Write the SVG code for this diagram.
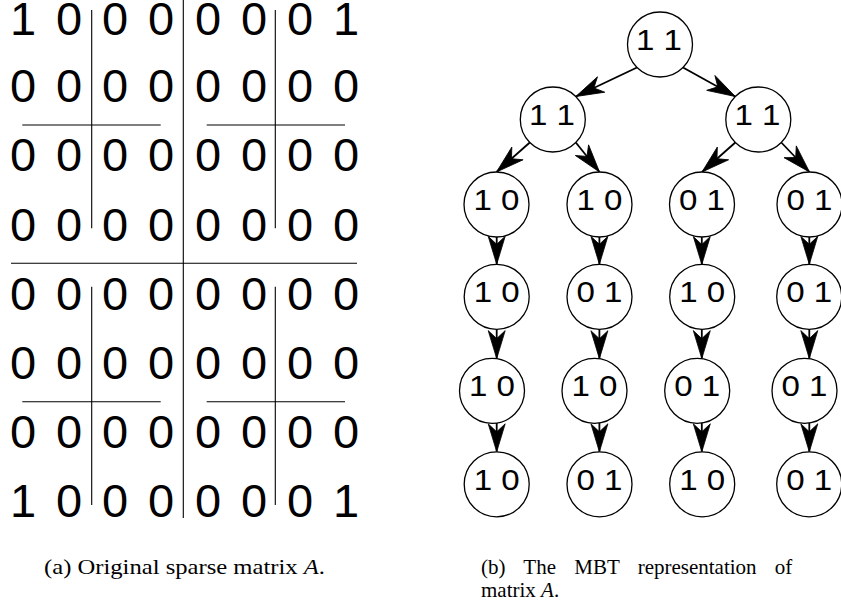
<svg xmlns="http://www.w3.org/2000/svg" width="841" height="611" viewBox="0 0 841 611">
  <defs>
    <style>
      .m { font-family: "Liberation Sans", Arial, sans-serif; font-size: 47px; fill: #000; text-anchor: middle; }
      .grid { stroke: #000; stroke-width: 1.1; fill: none; }
      .node circle { fill: #fff; stroke: #000; stroke-width: 1.3; }
      .node text { font-family: "Liberation Sans", Arial, sans-serif; font-size: 30px; fill: #000; text-anchor: middle; }
      .edge { stroke: #000; stroke-width: 1.8; fill: none; marker-end: url(#head); }
      .cap { font-family: "Liberation Serif", "Times New Roman", serif; font-size: 21px; fill: #000; }
    </style>
    <marker id="head" markerUnits="userSpaceOnUse" viewBox="-29 -10 31 20" refX="0" refY="0" markerWidth="31" markerHeight="20" orient="auto" overflow="visible">
      <path d="M0,0 L-28,-8.5 L-20,0 L-28,8.5 Z" fill="#000" stroke="#000" stroke-width="0.8" stroke-linejoin="miter"/>
    </marker>
  </defs>

  <!-- (a) block-partitioned 8x8 matrix -->
  <g id="matrix">
    <g id="matrix-lines">
      <line class="grid" x1="183.3" y1="0" x2="183.3" y2="518"/>
      <line class="grid" x1="11" y1="263.3" x2="357" y2="263.3"/>
      <line class="grid" x1="91.7" y1="10" x2="91.7" y2="228.3"/>
      <line class="grid" x1="275.3" y1="10" x2="275.3" y2="228.3"/>
      <line class="grid" x1="22.3" y1="125" x2="160.7" y2="125"/>
      <line class="grid" x1="206.7" y1="125" x2="345" y2="125"/>
      <line class="grid" x1="91.7" y1="286.7" x2="91.7" y2="505"/>
      <line class="grid" x1="275.3" y1="286.7" x2="275.3" y2="505"/>
      <line class="grid" x1="22.3" y1="401.7" x2="160.7" y2="401.7"/>
      <line class="grid" x1="206.7" y1="401.7" x2="345" y2="401.7"/>
    </g>
    <g id="matrix-cells">
      <text class="m" y="34.5"><tspan x="23">1</tspan><tspan x="69">0</tspan><tspan x="115">0</tspan><tspan x="161">0</tspan><tspan x="208">0</tspan><tspan x="254">0</tspan><tspan x="300">0</tspan><tspan x="346">1</tspan></text>
      <text class="m" y="102.2"><tspan x="23">0</tspan><tspan x="69">0</tspan><tspan x="115">0</tspan><tspan x="161">0</tspan><tspan x="208">0</tspan><tspan x="254">0</tspan><tspan x="300">0</tspan><tspan x="346">0</tspan></text>
      <text class="m" y="171.4"><tspan x="23">0</tspan><tspan x="69">0</tspan><tspan x="115">0</tspan><tspan x="161">0</tspan><tspan x="208">0</tspan><tspan x="254">0</tspan><tspan x="300">0</tspan><tspan x="346">0</tspan></text>
      <text class="m" y="240.6"><tspan x="23">0</tspan><tspan x="69">0</tspan><tspan x="115">0</tspan><tspan x="161">0</tspan><tspan x="208">0</tspan><tspan x="254">0</tspan><tspan x="300">0</tspan><tspan x="346">0</tspan></text>
      <text class="m" y="309.8"><tspan x="23">0</tspan><tspan x="69">0</tspan><tspan x="115">0</tspan><tspan x="161">0</tspan><tspan x="208">0</tspan><tspan x="254">0</tspan><tspan x="300">0</tspan><tspan x="346">0</tspan></text>
      <text class="m" y="379"><tspan x="23">0</tspan><tspan x="69">0</tspan><tspan x="115">0</tspan><tspan x="161">0</tspan><tspan x="208">0</tspan><tspan x="254">0</tspan><tspan x="300">0</tspan><tspan x="346">0</tspan></text>
      <text class="m" y="448.2"><tspan x="23">0</tspan><tspan x="69">0</tspan><tspan x="115">0</tspan><tspan x="161">0</tspan><tspan x="208">0</tspan><tspan x="254">0</tspan><tspan x="300">0</tspan><tspan x="346">0</tspan></text>
      <text class="m" y="517.4"><tspan x="23">1</tspan><tspan x="69">0</tspan><tspan x="115">0</tspan><tspan x="161">0</tspan><tspan x="208">0</tspan><tspan x="254">0</tspan><tspan x="300">0</tspan><tspan x="346">1</tspan></text>
    </g>
  </g>

  <!-- (b) tree connectors -->
  <g id="connectors">
    <path class="edge" d="M637,67.5 L575.8,96.5"/>
    <path class="edge" d="M683,67.5 L735.3,96.5"/>
    <path class="edge" d="M529.8,142.5 L496.5,172"/>
    <path class="edge" d="M575.8,142.5 L599.5,172"/>
    <path class="edge" d="M735.3,142.5 L702,172"/>
    <path class="edge" d="M781.3,142.5 L809.5,172"/>

    <path class="edge" d="M496.7,237 L496.7,264.3"/>
    <path class="edge" d="M599.4,237 L599.4,264.3"/>
    <path class="edge" d="M701.8,237 L701.8,264.5"/>
    <path class="edge" d="M809.3,237 L809.3,264.3"/>

    <path class="edge" d="M496.7,329.3 L496.7,358.6"/>
    <path class="edge" d="M599.4,329.3 L599.4,358.7"/>
    <path class="edge" d="M701.8,329.3 L701.8,358.6"/>
    <path class="edge" d="M809.3,329.3 L809.3,358.6"/>

    <path class="edge" d="M496.7,423 L496.7,451.8"/>
    <path class="edge" d="M599.4,423 L599.4,451.8"/>
    <path class="edge" d="M701.8,423 L701.8,451.8"/>
    <path class="edge" d="M809.3,423 L809.3,451.8"/>
  </g>

  <!-- (b) tree nodes -->
  <g id="n-root" class="node"><circle cx="660" cy="44.5" r="32.5"/><text x="659" y="50" textLength="46" lengthAdjust="spacingAndGlyphs">1 1</text></g>

  <g id="n-l" class="node"><circle cx="552.8" cy="119.5" r="32.5"/><text x="552" y="125" textLength="46" lengthAdjust="spacingAndGlyphs">1 1</text></g>
  <g id="n-r" class="node"><circle cx="758.3" cy="119.5" r="32.5"/><text x="757.5" y="125" textLength="46" lengthAdjust="spacingAndGlyphs">1 1</text></g>

  <g id="n-3-1" class="node"><circle cx="496.5" cy="204.5" r="32.5"/><text x="496.5" y="210" textLength="46" lengthAdjust="spacingAndGlyphs">1 0</text></g>
  <g id="n-3-2" class="node"><circle cx="599.5" cy="204.5" r="32.5"/><text x="599.5" y="210" textLength="46" lengthAdjust="spacingAndGlyphs">1 0</text></g>
  <g id="n-3-3" class="node"><circle cx="702" cy="204.5" r="32.5"/><text x="702" y="210" textLength="46" lengthAdjust="spacingAndGlyphs">0 1</text></g>
  <g id="n-3-4" class="node"><circle cx="809.5" cy="204.5" r="32.5"/><text x="809.5" y="210" textLength="46" lengthAdjust="spacingAndGlyphs">0 1</text></g>

  <g id="n-4-1" class="node"><circle cx="496.7" cy="296.8" r="32.5"/><text x="496.7" y="302.3" textLength="46" lengthAdjust="spacingAndGlyphs">1 0</text></g>
  <g id="n-4-2" class="node"><circle cx="599.5" cy="296.8" r="32.5"/><text x="599.5" y="302.3" textLength="46" lengthAdjust="spacingAndGlyphs">0 1</text></g>
  <g id="n-4-3" class="node"><circle cx="702.2" cy="296.8" r="32.5"/><text x="702.2" y="302.3" textLength="46" lengthAdjust="spacingAndGlyphs">1 0</text></g>
  <g id="n-4-4" class="node"><circle cx="809.2" cy="296.8" r="32.5"/><text x="809.2" y="302.3" textLength="46" lengthAdjust="spacingAndGlyphs">0 1</text></g>

  <g id="n-5-1" class="node"><circle cx="492" cy="390.8" r="32.5"/><text x="492" y="396.3" textLength="46" lengthAdjust="spacingAndGlyphs">1 0</text></g>
  <g id="n-5-2" class="node"><circle cx="594.5" cy="390.8" r="32.5"/><text x="594.5" y="396.3" textLength="46" lengthAdjust="spacingAndGlyphs">1 0</text></g>
  <g id="n-5-3" class="node"><circle cx="697.2" cy="390.8" r="32.5"/><text x="697.2" y="396.3" textLength="46" lengthAdjust="spacingAndGlyphs">0 1</text></g>
  <g id="n-5-4" class="node"><circle cx="804.5" cy="390.8" r="32.5"/><text x="804.5" y="396.3" textLength="46" lengthAdjust="spacingAndGlyphs">0 1</text></g>

  <g id="n-6-1" class="node"><circle cx="496.7" cy="484.3" r="32.5"/><text x="496.7" y="489.8" textLength="46" lengthAdjust="spacingAndGlyphs">1 0</text></g>
  <g id="n-6-2" class="node"><circle cx="599.5" cy="484.3" r="32.5"/><text x="599.5" y="489.8" textLength="46" lengthAdjust="spacingAndGlyphs">0 1</text></g>
  <g id="n-6-3" class="node"><circle cx="702.2" cy="484.3" r="32.5"/><text x="702.2" y="489.8" textLength="46" lengthAdjust="spacingAndGlyphs">1 0</text></g>
  <g id="n-6-4" class="node"><circle cx="809.2" cy="484.3" r="32.5"/><text x="809.2" y="489.8" textLength="46" lengthAdjust="spacingAndGlyphs">0 1</text></g>

  <!-- captions -->
  <g id="captions">
    <text class="cap" x="44" y="574" textLength="281" lengthAdjust="spacingAndGlyphs">(a) Original sparse matrix <tspan font-style="italic">A</tspan>.</text>
    <text class="cap" x="481" y="574" word-spacing="13">(b) The MBT representation of</text>
    <text class="cap" x="481" y="597">matrix <tspan font-style="italic">A</tspan>.</text>
  </g>
</svg>
